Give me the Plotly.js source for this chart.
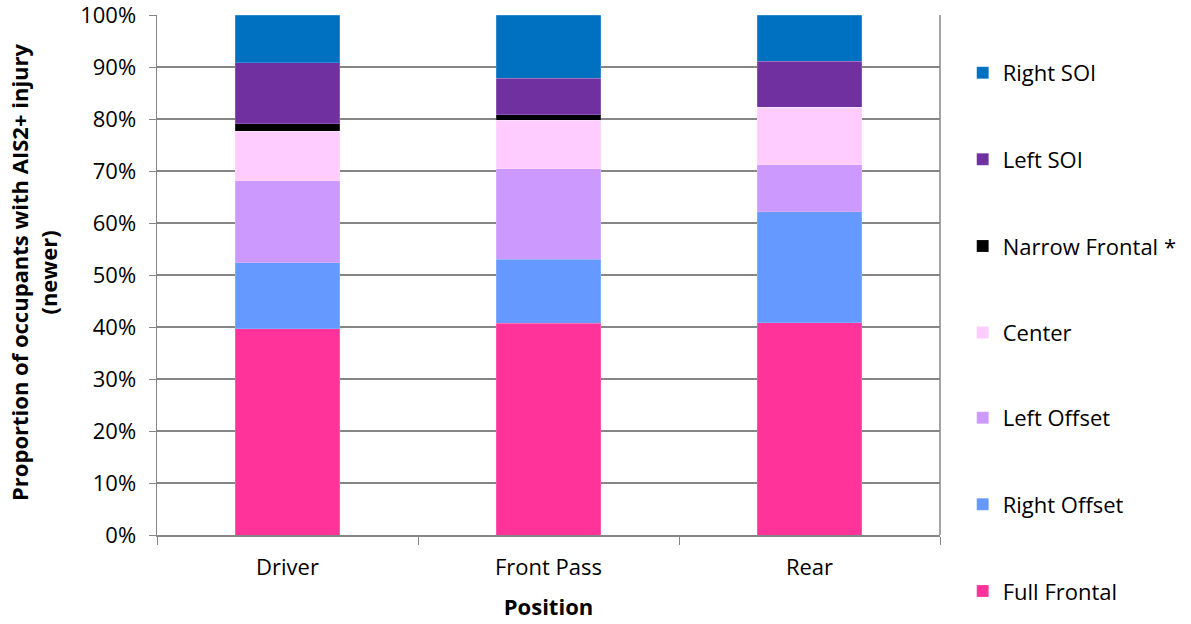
<!DOCTYPE html>
<html>
<head>
<meta charset="utf-8">
<script src="https://cdn.plot.ly/plotly-3.0.1.min.js"></script>
<style>html,body{margin:0;padding:0;background:#fff;}#chart{width:1191px;height:624px;}</style>
</head>
<body>
<div id="chart"></div>
<script>
const positions = ["Driver", "Front Pass", "Rear"];
const seriesNames = ["Full Frontal", "Right Offset", "Left Offset", "Center", "Narrow Frontal *", "Left SOI", "Right SOI"];
const fullFrontal   = [39.7, 40.7, 40.8];
const rightOffset   = [12.7, 12.3, 21.4];
const leftOffset    = [15.7, 17.4, 9.0];
const center        = [9.5, 9.4, 11.1];
const narrowFrontal = [1.5, 1.0, 0.0];
const leftSOI       = [11.7, 7.0, 8.8];
const rightSOI      = [9.2, 12.2, 8.9];
const seriesColors = ["#FF3399", "#6699FF", "#CC99FF", "#FFCCFF", "#000000", "#7030A0", "#0070C0"];
const seriesValues = [fullFrontal, rightOffset, leftOffset, center, narrowFrontal, leftSOI, rightSOI];
const yTickVals = [0, 10, 20, 30, 40, 50, 60, 70, 80, 90, 100];
const yTickText = ["0%", "10%", "20%", "30%", "40%", "50%", "60%", "70%", "80%", "90%", "100%"];
const yTitleText = "<b>Proportion of occupants with AIS2+ injury<br>(newer)</b>";

const font = "'Open Sans', sans-serif";
const fs = 22;
const traces = seriesNames.map((name, i) => ({
  type: "bar",
  name: name,
  x: positions,
  y: seriesValues[i],
  legend: i < 3 ? "legend2" : "legend",
  legendgroup: "g" + i,
  legendrank: 1000 - i * 10,
  marker: {color: seriesColors[i], line: {color: "rgba(255,255,255,0.35)", width: 0.5}},
  hoverinfo: "x+y+name"
}));

const legendCommon = {
  xanchor: "left", yanchor: "top",
  traceorder: "grouped",
  tracegroupgap: 55,
  font: {family: font, size: fs, color: "#000000"},
  bgcolor: "rgba(0,0,0,0)"
};

const layout = {
  width: 1191,
  height: 624,
  margin: {l: 157, r: 251, t: 15, b: 89, autoexpand: false},
  paper_bgcolor: "#ffffff",
  plot_bgcolor: "#ffffff",
  barmode: "stack",
  bargap: 0.6,
  showlegend: true,
  font: {family: font, size: fs, color: "#000000"},
  legend: Object.assign({x: 1.029, y: 0.929}, legendCommon),
  legend2: Object.assign({x: 1.029, y: 0.2655}, legendCommon),
  xaxis: {
    type: "category",
    showline: true, linecolor: "#868686", linewidth: 1.5,
    ticks: "outside", tickson: "boundaries", ticklen: 8, tickcolor: "#868686",
    ticklabelstandoff: 12,
    tickfont: {family: font, size: fs, color: "#000000"},
    title: {text: "<b>Position</b>", font: {family: font, size: fs, color: "#000000"}, standoff: 19},
    automargin: false
  },
  yaxis: {
    range: [0, 100],
    tickvals: yTickVals,
    ticktext: yTickText,
    ticklabeloverflow: "allow",
    showline: true, linecolor: "#868686", linewidth: 1.5,
    showgrid: true, gridcolor: "#868686", gridwidth: 1.5,
    ticks: "outside", ticklen: 7, tickcolor: "#868686",
    ticklabelstandoff: 8,
    tickfont: {family: font, size: fs, color: "#000000"},
    zeroline: false,
    automargin: false
  },
  annotations: [{
    text: yTitleText, xref: "paper", yref: "paper",
    x: -0.157, y: 0.506, xanchor: "center", yanchor: "middle",
    textangle: -90, showarrow: false,
    font: {family: font, size: fs, color: "#000000"}
  }],
  shapes: [{type: "line", xref: "paper", yref: "paper", x0: 1, x1: 1, y0: 0, y1: 1, line: {color: "#868686", width: 1.5}}]
};

Plotly.newPlot("chart", traces, layout, {displayModeBar: false, staticPlot: true});
</script>
</body>
</html>
